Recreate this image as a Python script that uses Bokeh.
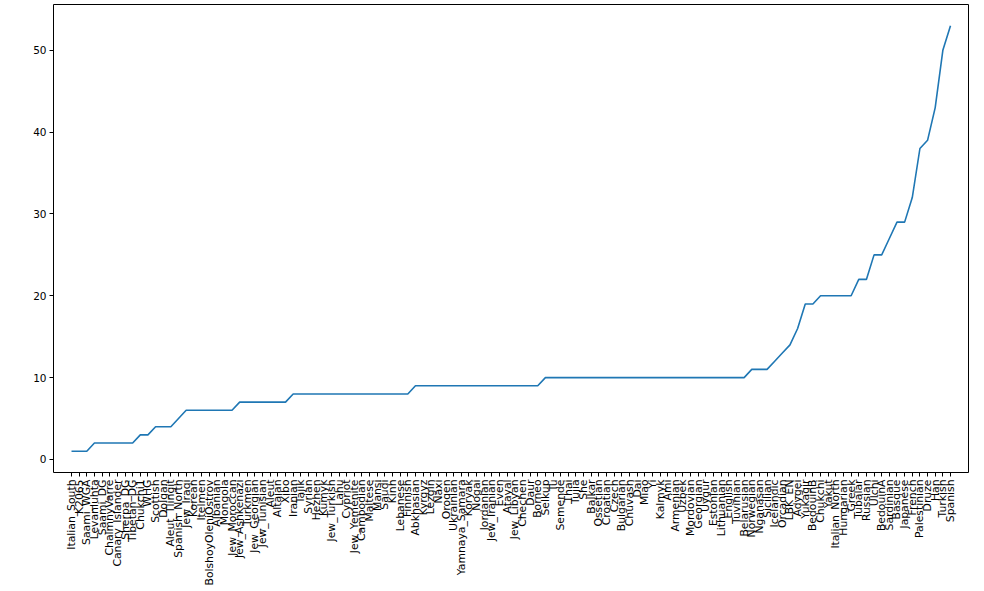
import math

from bokeh.plotting import figure
from bokeh.models import FactorRange, Range1d, FixedTicker
from bokeh.embed import file_html
from bokeh.resources import INLINE

# Populations, ordered by their count
populations = [
    "Italian_South", "K2065", "Saami_WGA", "Levanluhta", "Saami_DG", "ChalmnyVarre",
    "Canary_Islander", "Sherpa_DG", "Tibetan_DG", "Chukchi1", "WHG", "Scottish",
    "Dolgan", "Aleut_Tlingit", "Spanish_North", "Jew_Iraqi", "Korean", "Itelmen",
    "BolshoyOleniOstrov", "Albanian", "Mongola", "Jew_Moroccan", "Jew_Ashkenazi",
    "Turkmen", "Jew_Georgian", "Jew_Tunisian", "Aleut", "Altaian", "Xibo", "Iranian",
    "Tajik", "Syrian", "Hezhen", "Kumyk", "Jew_Turkish", "Lahu", "Cypriot",
    "Jew_Yemenite", "Cambodian", "Maltese", "Mansi", "Saudi", "Kinh", "Lebanese",
    "Finnish", "Abkhasian", "Kyrgyz", "Lezgin", "Naxi", "Oroqen", "Ukrainian",
    "Yamnaya_Samara", "Koryak", "Nogai", "Jordanian", "Jew_Iranian", "Even", "Atayal",
    "Jew_Libyan", "Chechen", "Daur", "Borneo", "Selkup", "Tu", "Semende", "Thai",
    "Tujia", "She", "Balkar", "Ossetian", "Croatian", "Czech", "Bulgarian", "Chuvash",
    "Dai", "Miao", "Yi", "Kalmyk", "Ami", "Armenian", "Uzbek", "Mordovian", "Georgian",
    "Uygur", "Estonian", "Lithuanian", "English", "Tuvinian", "Belarusian", "Norwegian",
    "Nganasan", "Sicilian", "Icelandic", "Orcadian", "LBK_EN", "Adygei", "Yukagir",
    "BedouinB", "Chukchi", "Yakut", "Italian_North", "Hungarian", "Greek", "Tubalar",
    "Russian", "Ulchi", "BedouinA", "Sardinian", "Basque", "Japanese", "French",
    "Palestinian", "Druze", "Han", "Turkish", "Spanish",
]

counts = (
    [1] * 3 + [2] * 6 + [3] * 2 + [4] * 3 + [5] + [6] * 7 + [7] * 7 + [8] * 16
    + [9] * 17 + [10] * 27 + [11] * 3 + [12, 13, 14, 16, 19, 19] + [20] * 5
    + [22, 22, 25, 25, 27, 29, 29, 32, 38, 39, 43, 50, 53]
)

y_ticks = [0, 10, 20, 30, 40, 50]

FONT = "DejaVu Sans"

p = figure(
    x_range=FactorRange(factors=populations, range_padding=0.032),
    y_range=Range1d(-1.6, 55.6),
    frame_width=915, frame_height=468,
    min_border_left=53, min_border_right=16, min_border_top=4, min_border_bottom=119,
    output_backend="svg", toolbar_location=None,
    background_fill_color="white", border_fill_color="white",
)

p.line(x=populations, y=counts, line_color="#1f77b4", line_width=1.6)

p.grid.visible = False
p.outline_line_color = "black"
p.outline_line_width = 1
p.outline_line_alpha = 1

p.yaxis.ticker = FixedTicker(ticks=y_ticks)
p.yaxis.minor_tick_line_color = None

for ax in (p.xaxis, p.yaxis):
    ax.axis_line_color = None
    ax.major_tick_in = 0
    ax.major_tick_out = 4
    ax.major_tick_line_color = "black"
    ax.major_label_standoff = 3
    ax.major_label_text_font = FONT
    ax.major_label_text_color = "black"

p.yaxis.major_label_text_font_size = "10.5px"
p.xaxis.major_label_text_font_size = "10.8px"

# labels read from bottom to top, ending at the tick
p.xaxis.major_label_orientation = math.pi / 2
p.xaxis.group_text_font_size = "0px"

open("out.html", "w").write(file_html(p, INLINE))
